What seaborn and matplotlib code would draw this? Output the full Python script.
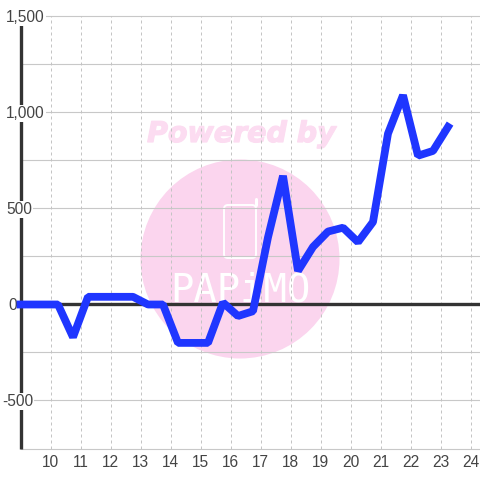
import matplotlib
matplotlib.use('Agg')
import matplotlib.pyplot as plt
from matplotlib.patches import Circle, FancyBboxPatch
from matplotlib.lines import Line2D
from matplotlib.transforms import Affine2D
import matplotlib.patheffects as pe
import pandas as pd
import seaborn as sns

# du lieu doc tu hinh
x_vals = [9, 9.25, 9.75, 10.25, 10.75, 11.25, 11.75, 12.25, 12.75, 13.25, 13.75, 14.25, 14.75, 15.25,
          15.75, 16.25, 16.75, 17.25, 17.75, 18.25, 18.75, 19.25, 19.75, 20.25, 20.75, 21.25, 21.75,
          22.25, 22.75, 23.25]
y_vals = [0, 0, 0, 0, -170, 40, 40, 40, 40, 0, 0, -200, -200, -200,
          10, -60, -35, 350, 670, 175, 300, 380, 400, 325, 430, 890, 1090,
          775, 800, 925]
x_ticks = list(range(10, 25))
y_major = [1500, 1000, 500, 0, -500]
y_grid = [1500, 1250, 1000, 750, 500, 250, 0, -250, -500, -750]
y_labels = ['1,500', '1,000', '500', '0', '-500']

sns.set_theme(style='white')
plt.rcParams['font.family'] = ['Liberation Sans', 'DejaVu Sans']

df = pd.DataFrame({'x': x_vals, 'y': y_vals})

fig = plt.figure(figsize=(4.8, 4.8), dpi=100, facecolor='white')
W = 480.0
ax = fig.add_axes([20.5 / W, 1 - 448.5 / W, (480 - 20.5) / W, (448.5 - 16.5) / W])
ax.set_xlim(9, 9 + (480 - 20.5) / 30)
ax.set_ylim(-750, 1500)
ax.patch.set_alpha(0)
ax.set_zorder(1)  # axes nam tren watermark
for s in ax.spines.values():
    s.set_visible(False)

# watermark
pink = '#fbd5ee'
px = Affine2D().scale(1 / W) + fig.transFigure
fig.add_artist(Circle((240, 480 - 259), 99.5, transform=px, fc=pink, ec='none', zorder=0))
fig.add_artist(FancyBboxPatch((224, 480 - 258), 32, 53, boxstyle='round,pad=0,rounding_size=4', transform=px,
                              fc='none', ec='white', lw=1.4, zorder=0))
fig.add_artist(Line2D([256, 256], [480 - 205, 480 - 199], transform=px, color='white', lw=2.2, zorder=0))
t = fig.text(241.5 / W, 1 - 134 / W, 'Powered by', fontsize=20.5, fontweight='bold', fontstyle='italic',
             family=['DejaVu Sans'], color='#fcdcf1', ha='center', va='center', zorder=0)
t.set_path_effects([pe.withStroke(linewidth=0.9, foreground='#fcdcf1')])
fig.text(240 / W, 1 - 290 / W, 'PAPiMO', fontsize=28, color='white', ha='center', va='center', zorder=0,
         family=['DejaVu Sans Mono'])

# grid
for v in y_grid:
    ax.axhline(v, color='#c8c8c8', lw=0.8, zorder=1, clip_on=False)
for v in x_ticks:
    ax.axvline(v, color='#c4c4c4', lw=0.72, ls=(0, (3, 3)), zorder=1)
ax.axhline(0, color='#333333', lw=2.4, zorder=2)
ax.plot([9, 9], [-750, 1460], color='#333333', lw=2.4, zorder=2, solid_capstyle='butt', clip_on=False)

sns.lineplot(data=df, x='x', y='y', ax=ax, color='#1f36ff', linewidth=5.6, sort=False, errorbar=None,
             estimator=None, zorder=5, solid_joinstyle='bevel', solid_capstyle='projecting', clip_on=False)

ax.set_xlabel('')
ax.set_ylabel('')
ax.set_xticks(x_ticks)
ax.set_yticks([])
ax.tick_params(axis='x', length=0, pad=5, labelsize=11.2, labelcolor='#444444')

# nhan truc y co nen trang
y_left = [6, 6, 6, 8, 2]
for v, lab, lx in zip(y_major, y_labels, y_left):
    ax.annotate(lab, xy=(0, v), xycoords=('axes fraction', 'data'), xytext=(lx - 20.5, -1),
                textcoords='offset pixels', fontsize=11.2, color='#444444', ha='left', va='center', zorder=4,
                annotation_clip=False,
                bbox=dict(fc='white' if v != 0 else 'none', ec='none', pad=0.8))

fig.savefig('out.png', dpi=100)
